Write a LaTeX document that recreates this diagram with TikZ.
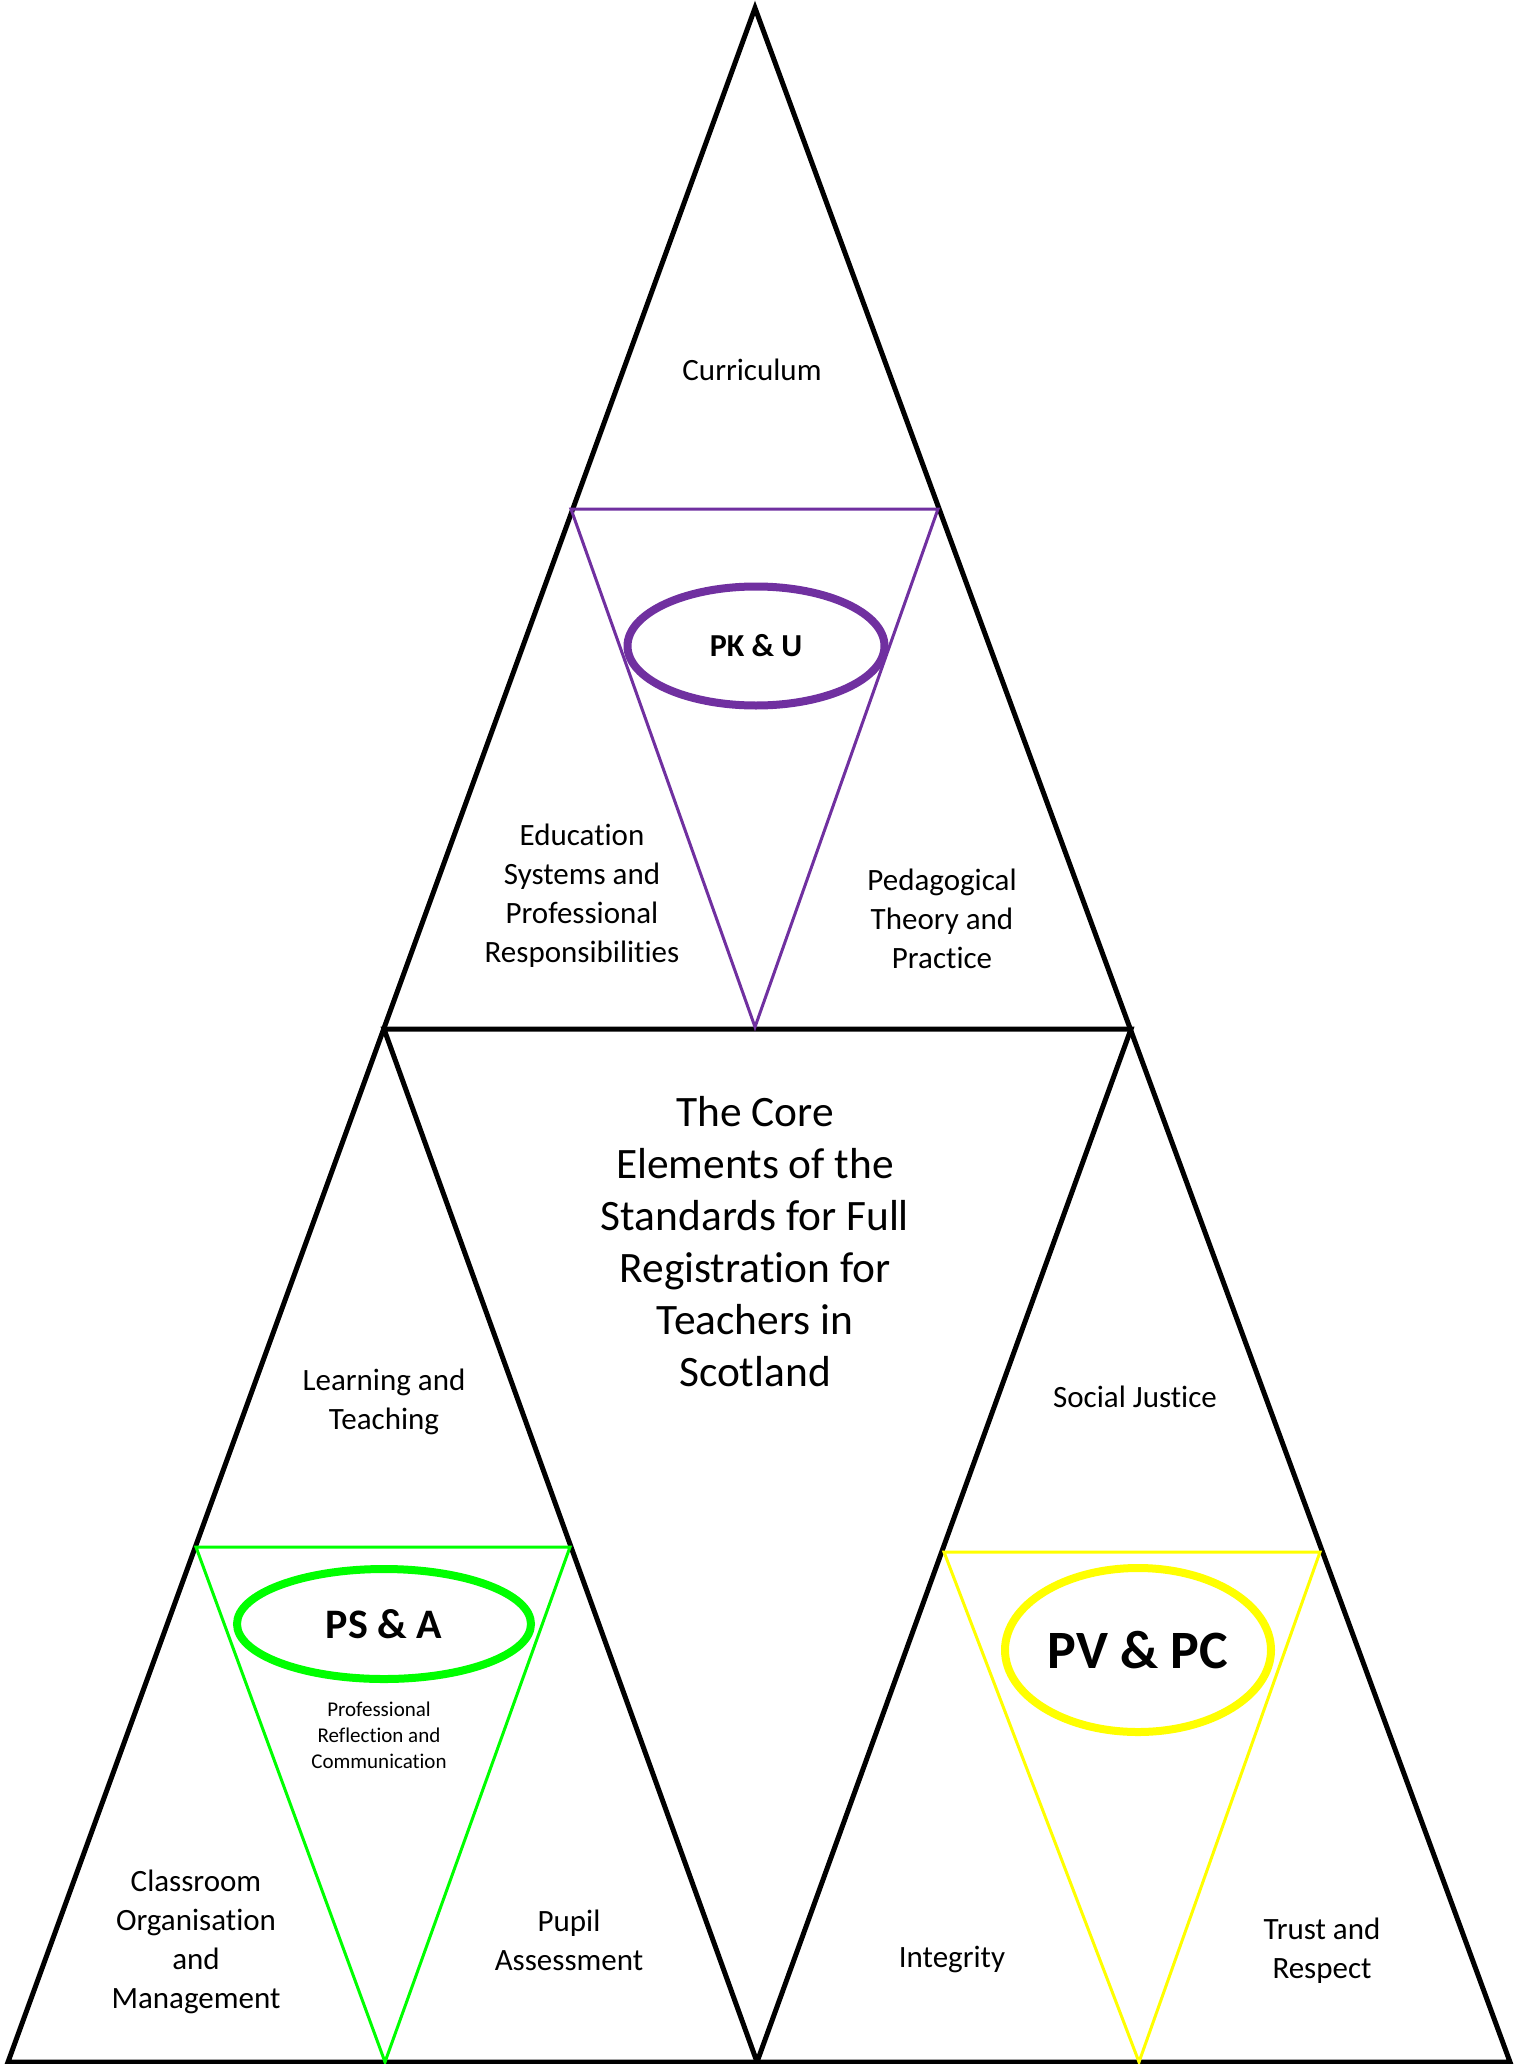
\documentclass[tikz,border=0pt]{standalone}
\usepackage{fontspec}
\setmainfont{Carlito}[Ligatures=NoCommon]
\usetikzlibrary{shapes.geometric}
\definecolor{pkpurple}{HTML}{7030A0}
\definecolor{psgreen}{HTML}{00FF00}
\definecolor{pvyellow}{HTML}{FFFF00}

\begin{document}
\begin{tikzpicture}[x=0.5pt,y=-0.5pt]
  \tikzstyle{edge}=[draw=black,line width=2.5pt,line join=miter]
  \tikzstyle{inner}=[line width=1.5pt,line join=miter]
  \tikzstyle{ring}=[ellipse,draw,line width=4pt,inner sep=0pt]
  \tikzstyle{lbl}=[align=center,font=\fontsize{15.5}{19.5}\selectfont]
  \fill[white] (0,0) rectangle (1515,2064);
  \useasboundingbox (0,0) rectangle (1515,2064);

  % big triangle and the middle one
  \coordinate (top) at (755,8);
  \coordinate (bl) at (8,2062);
  \coordinate (br) at (1510,2062);
  \coordinate (ml) at (384,1029);
  \coordinate (mr) at (1131,1029);
  \coordinate (mb) at (757,2062);
  \draw[edge] (top) -- (bl) -- (br) -- cycle;
  \draw[edge] (ml) -- (mr) -- (mb) -- cycle;

  % coloured inner triangles
  \coordinate (pk1) at (571,509);
  \coordinate (pk2) at (938,509);
  \coordinate (pk3) at (755,1027);
  \coordinate (ps1) at (196,1547);
  \coordinate (ps2) at (570,1547);
  \coordinate (ps3) at (385,2062);
  \coordinate (pv1) at (944,1552);
  \coordinate (pv2) at (1320,1552);
  \coordinate (pv3) at (1139,2062);
  \draw[inner,pkpurple] (pk1) -- (pk2) -- (pk3) -- cycle;
  \draw[inner,psgreen] (ps1) -- (ps2) -- (ps3) -- cycle;
  \draw[inner,pvyellow] (pv1) -- (pv2) -- (pv3) -- cycle;

  \node[ring,draw=pkpurple,minimum width=128.5pt,minimum height=59.5pt,
    font=\fontsize{16}{19}\selectfont\bfseries] (pku) at (756,646) {PK \& U};
  \node[ring,draw=psgreen,minimum width=147pt,minimum height=55pt,
    font=\fontsize{21}{25}\selectfont\bfseries] (psa) at (384,1624) {PS \& A};
  \node[ring,draw=pvyellow,minimum width=133pt,minimum height=82pt,
    font=\fontsize{27}{32}\selectfont\bfseries] (pvpc) at (1138,1650) {PV \& PC};

  \node[lbl] (curr) at (752,370) {Curriculum};
  \node[lbl] (esys) at (582,896) {Education\\Systems and\\Professional\\Responsibilities};
  \node[lbl] (ped) at (942,919) {Pedagogical\\Theory and\\Practice};
  \node[lbl,font=\fontsize{21.7}{26}\selectfont] (core) at (755,1242)
    {The Core\\Elements of the\\Standards for Full\\Registration for\\Teachers in\\Scotland};
  \node[lbl] (learn) at (384,1402) {Learning and\\Teaching};
  \node[lbl] (soc) at (1135,1397) {Social Justice};
  \node[lbl,font=\fontsize{10.5}{13}\selectfont] (refl) at (379,1735)
    {Professional\\Reflection and\\Communication};
  \node[lbl] (class) at (196,1942) {Classroom\\Organisation\\and\\Management};
  \node[lbl] (pupil) at (569,1940) {Pupil\\Assessment};
  \node[lbl] (integ) at (952,1959) {Integrity};
  \node[lbl] (trust) at (1322,1951) {Trust and\\Respect};
\end{tikzpicture}
\end{document}
